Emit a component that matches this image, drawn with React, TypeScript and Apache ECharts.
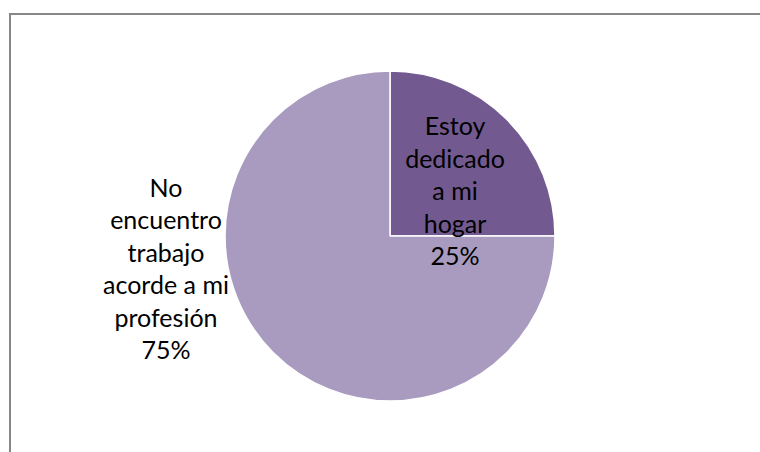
import React, { useEffect, useRef } from "react";
import * as echarts from "echarts";

const categories = ["Estoy dedicado a mi hogar", "No encuentro trabajo acorde a mi profesión"];
const labelLines = [
  ["Estoy", "dedicado", "a mi", "hogar"],
  ["No", "encuentro", "trabajo", "acorde a mi", "profesión"],
];
const values = [25, 75];
const colors = ["#725a90", "#a99bbf"];

export default function App() {
  const ref = useRef<HTMLDivElement>(null);
  useEffect(() => {
    if (!ref.current) return;
    const chart = echarts.init(ref.current, undefined, { renderer: "svg" });
    const total = values.reduce((a, b) => a + b, 0);
    chart.setOption({
      animation: false,
      backgroundColor: "#ffffff",
      graphic: [
        {
          type: "rect",
          shape: { x: 10, y: 14, width: 800, height: 500 },
          style: { fill: "none", stroke: "#878787", lineWidth: 2 },
          silent: true,
        },
      ],
      series: [
        {
          type: "pie",
          center: [390, 236],
          radius: [0, 165],
          startAngle: 90,
          clockwise: true,
          data: categories.map((name, i) => ({
            name,
            value: values[i],
            itemStyle: { color: colors[i] },
          })),
          itemStyle: { borderColor: "#ffffff", borderWidth: 1.5 },
          label: {
            show: true,
            position: "inside",
            formatter: (p: any) =>
              labelLines[p.dataIndex].join("\n") + "\n" + Math.round((p.value / total) * 100) + "%",
            fontFamily: "Lato, 'Liberation Sans', sans-serif",
            fontSize: 25,
            lineHeight: 32.5,
            color: "#000000",
            align: "center",
          },
          labelLine: { show: false },
          labelLayout: (params: any) => {
            if (params.dataIndex === 0) {
              return { x: 455, y: 190, align: "center", verticalAlign: "middle" };
            }
            return { x: 166, y: 268, align: "center", verticalAlign: "middle" };
          },
          emphasis: { disabled: true },
        },
      ],
    });
    return () => chart.dispose();
  }, []);
  return (
    <div
      ref={ref}
      style={{ position: "absolute", left: 0, top: 0, width: 760, height: 452 }}
    />
  );
}
